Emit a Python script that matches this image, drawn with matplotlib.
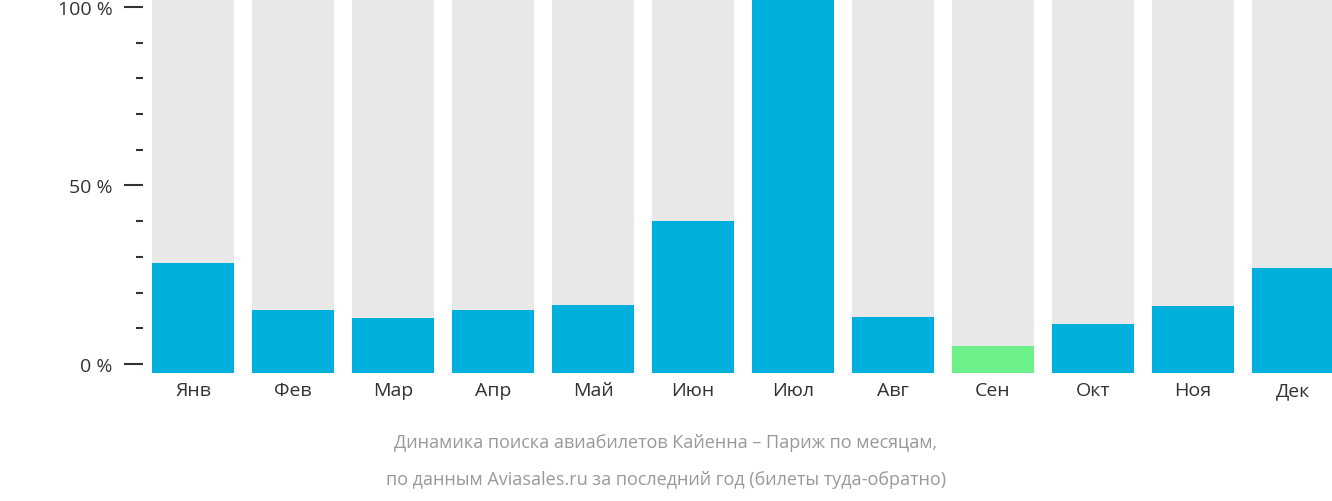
import matplotlib
matplotlib.use("Agg")
import matplotlib.pyplot as plt
from matplotlib.ticker import MultipleLocator

months = ["Янв", "Фев", "Мар", "Апр", "Май", "Июн", "Июл", "Авг", "Сен", "Окт", "Ноя", "Дек"]
values = [28.3, 15.1, 12.9, 15.1, 16.5, 40.0, 100.0, 13.2, 5.0, 11.2, 16.2, 26.9]
cheapest = "Сен"
title_lines = [
    "Динамика поиска авиабилетов Кайенна – Париж по месяцам,",
    "по данным Aviasales.ru за последний год (билеты туда-обратно)",
]

BLUE = "#00b0dc"
GREEN = "#6cf08a"
GREY = "#e8e8e8"
YMIN, YMAX = -2.5, 102.2

plt.rcParams["font.family"] = "Open Sans"
fig = plt.figure(figsize=(13.32, 5.02), dpi=100)
ax = fig.add_axes([143 / 1332, 128 / 502, 1189 / 1332, 374 / 502])

xs = range(len(months))
ax.bar(xs, YMAX - YMIN, bottom=YMIN, width=0.82, color=GREY, zorder=1)
for x, m, v in zip(xs, months, values):
    top = YMAX if v >= 100 else v
    ax.bar(x, top - YMIN, bottom=YMIN, width=0.82,
           color=GREEN if m == cheapest else BLUE, zorder=2)

ax.set_xlim(-0.5, 11.39)
ax.set_ylim(YMIN, YMAX)
ax.set_xticks(list(xs))
ax.set_xticklabels(months, fontsize=14, color="#333333")
ax.tick_params(axis="x", length=0, pad=6)
ax.set_yticks([0, 50, 100])
ax.set_yticklabels(["0 %", "50 %", "100 %"], fontsize=14, color="#333333")
ax.yaxis.set_minor_locator(MultipleLocator(10))
ax.tick_params(axis="y", which="major", length=14, width=1.5, color="#333333", pad=8)
ax.tick_params(axis="y", which="minor", length=5, width=1.5, color="#333333")
for s in ax.spines.values():
    s.set_visible(False)

fig.text(0.5, 1 - 443 / 502, title_lines[0], ha="center", va="center", fontsize=13, color="#999999")
fig.text(0.5, 1 - 480 / 502, title_lines[1], ha="center", va="center", fontsize=13, color="#999999")

fig.savefig("out.png", dpi=100)
